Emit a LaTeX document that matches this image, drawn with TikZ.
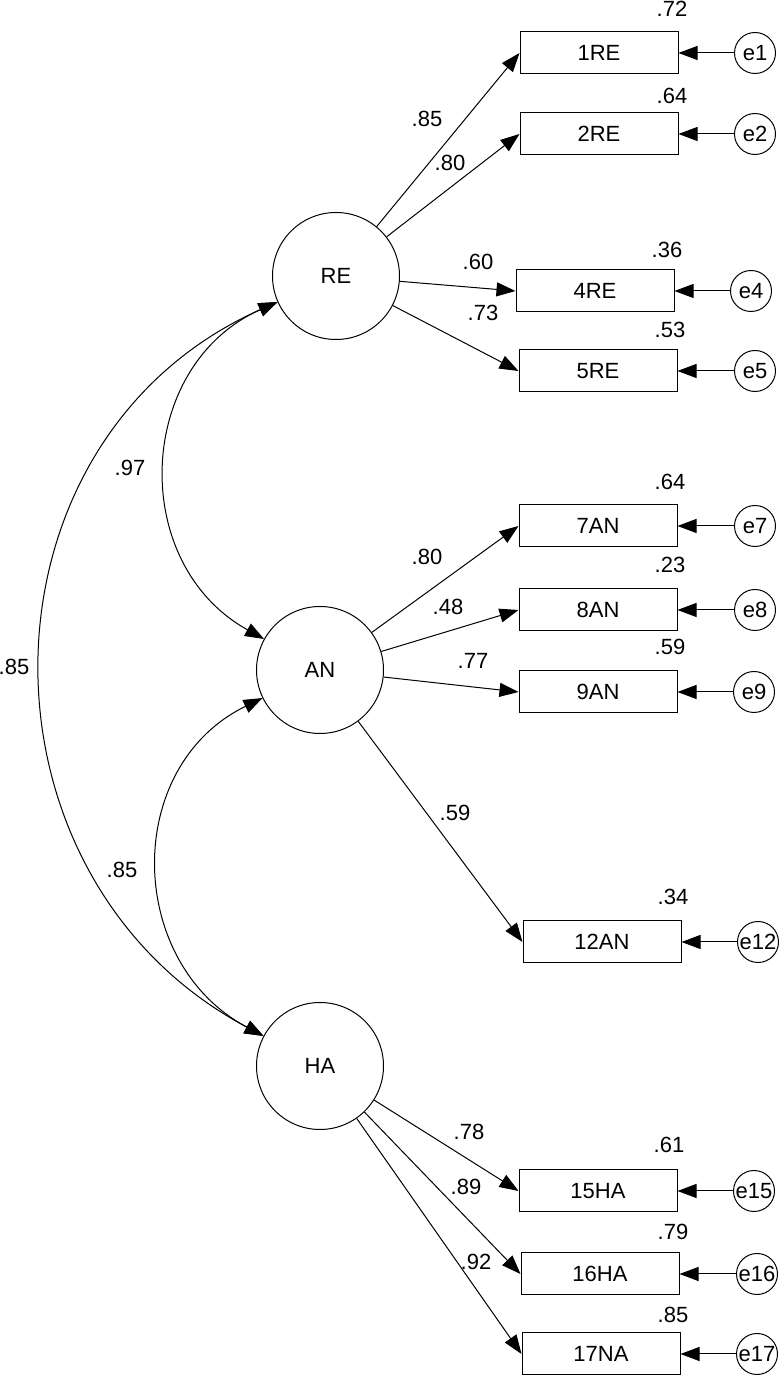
\documentclass[tikz,border=0pt]{standalone}
\usepackage{fontspec}
\setmainfont{Liberation Sans}
\usetikzlibrary{arrows.meta}

\begin{document}
\begin{tikzpicture}[x=1pt,y=1pt,line width=1pt,>={Triangle[length=19pt,width=14pt]}]
\tikzstyle{every node}=[font=\fontsize{22}{26}\selectfont, inner sep=0pt]
\tikzstyle{latent}=[draw, circle, minimum size=127pt]
\tikzstyle{item}=[draw, rectangle, minimum width=158pt, minimum height=42pt]
\tikzstyle{err}=[draw, circle, minimum size=41pt]
\useasboundingbox (0,0) rectangle (780,1376);
\draw (336,1100) node (RE) [latent] {RE};
\draw (320,706) node (AN) [latent] {AN};
\draw (320,310) node (HA) [latent] {HA};
\draw (599,1323) node (b1) [item] {1RE};
\draw (599,1242) node (b2) [item] {2RE};
\draw (595,1085) node (b4) [item] {4RE};
\draw (598,1005) node (b5) [item] {5RE};
\draw (598,850) node (b7) [item] {7AN};
\draw (598,766) node (b8) [item] {8AN};
\draw (598,684) node (b9) [item] {9AN};
\draw (602,434) node (b12) [item] {12AN};
\draw (598,185) node (b15) [item] {15HA};
\draw (600,102) node (b16) [item] {16HA};
\draw (601,22) node (b17) [item] {17NA};
\draw (755,1323) node (e1) [err] {e1};
\draw (755,1242) node (e2) [err] {e2};
\draw (751,1085) node (e4) [err] {e4};
\draw (755,1005) node (e5) [err] {e5};
\draw (755,850) node (e7) [err] {e7};
\draw (755,766) node (e8) [err] {e8};
\draw (754,684) node (e9) [err] {e9};
\draw (758,434) node (e12) [err] {e12};
\draw (754,185) node (e15) [err] {e15};
\draw (757,102) node (e16) [err] {e16};
\draw (757,22) node (e17) [err] {e17};
\draw[->] (RE) -- (b1.west);
\draw[->] (RE) -- (b2.west);
\draw[->] (RE) -- (b4.west);
\draw[->] (RE) -- (b5.west);
\draw[->] (AN) -- (b7.west);
\draw[->] (AN) -- (b8.west);
\draw[->] (AN) -- (b9.west);
\draw[->] (AN) -- (b12.west);
\draw[->] (HA) -- (b15.west);
\draw[->] (HA) -- (b16.west);
\draw[->] (HA) -- (b17.west);
\draw[->] (e1) -- (b1);
\draw[->] (e2) -- (b2);
\draw[->] (e4) -- (b4);
\draw[->] (e5) -- (b5);
\draw[->] (e7) -- (b7);
\draw[->] (e8) -- (b8);
\draw[->] (e9) -- (b9);
\draw[->] (e12) -- (b12);
\draw[->] (e15) -- (b15);
\draw[->] (e16) -- (b16);
\draw[->] (e17) -- (b17);
\draw[<->] (RE.204) to[out=204,in=151,looseness=1.18] (AN.151);
\draw[<->] (AN.206) to[out=206,in=152,looseness=1.18] (HA.152);
\draw[<->] (RE.204) to[out=204,in=152,looseness=1.18] (HA.152);
\draw (427,1257) node (l1) {.85};
\draw (450,1213) node (l2) {.80};
\draw (478,1114) node (l4) {.60};
\draw (483,1063) node (l5) {.73};
\draw (427,819) node (l7) {.80};
\draw (448,769) node (l8) {.48};
\draw (473,715) node (l9) {.77};
\draw (455,563) node (l12) {.59};
\draw (469,244) node (l15) {.78};
\draw (466,189) node (l16) {.89};
\draw (476,114) node (l17) {.92};
\draw (672,1367) node (r1) {.72};
\draw (672,1280) node (r2) {.64};
\draw (667,1126) node (r4) {.36};
\draw (670,1046) node (r5) {.53};
\draw (670,894) node (r7) {.64};
\draw (670,811) node (r8) {.23};
\draw (670,729) node (r9) {.59};
\draw (673,479) node (r12) {.34};
\draw (669,231) node (r15) {.61};
\draw (673,144) node (r16) {.79};
\draw (673,61) node (r17) {.85};
\draw (130,908) node (c1) {.97};
\draw (122,506) node (c2) {.85};
\draw (14,709) node (c3) {.85};
\end{tikzpicture}
\end{document}
